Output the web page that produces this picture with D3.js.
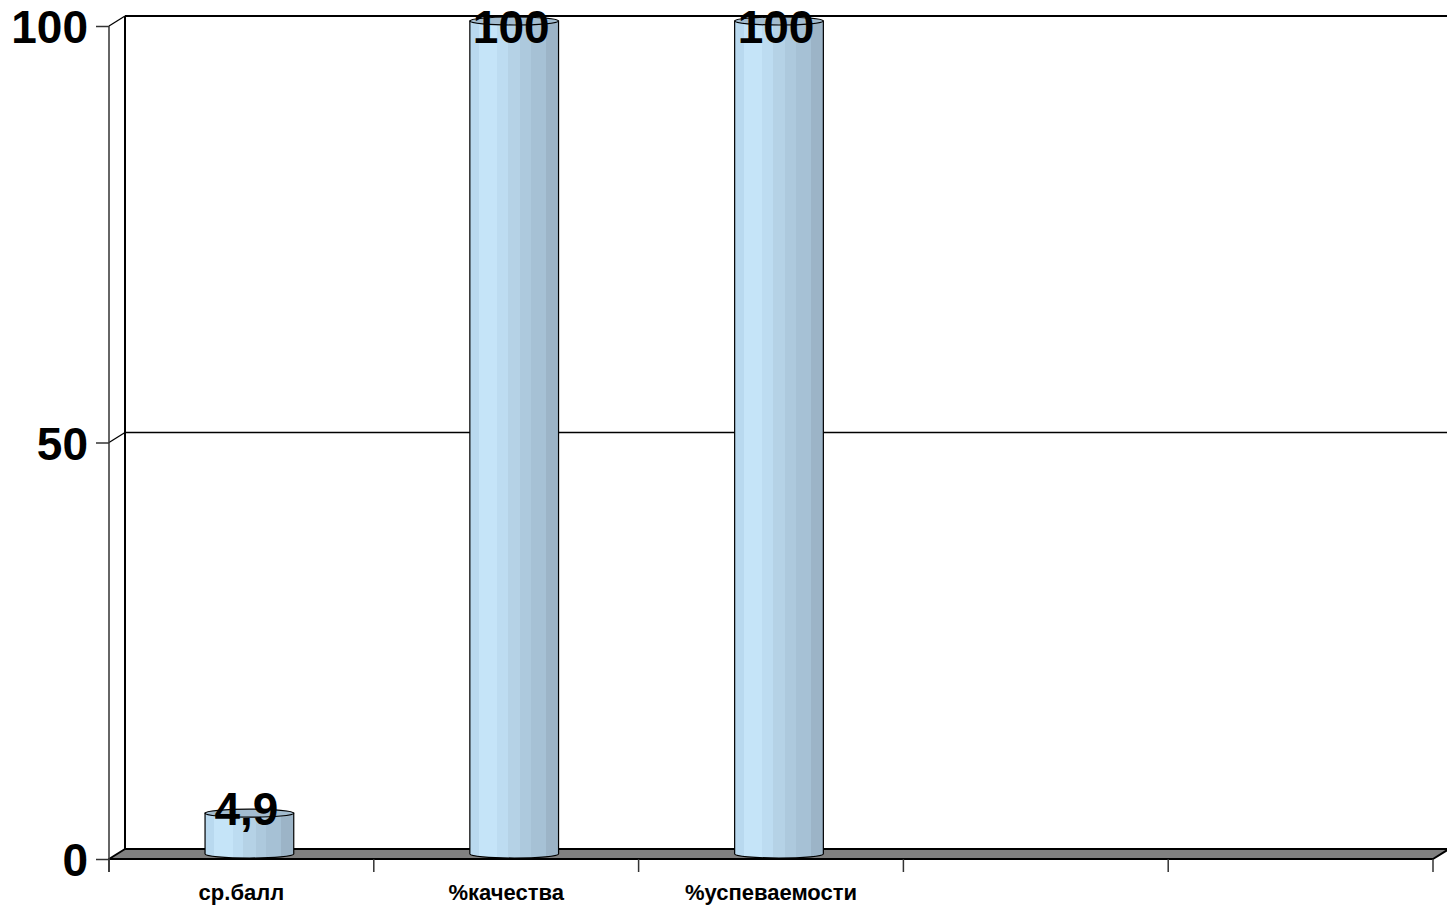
<!DOCTYPE html>
<html><head><meta charset="utf-8">
<script src="https://cdn.jsdelivr.net/npm/d3@7"></script>
<style>html,body{margin:0;padding:0;background:#fff;}svg{display:block;font-family:Arial,"Liberation Sans",sans-serif;}</style>
</head><body><svg id="c" width="1447" height="907"></svg>
<script>
const categories = ["ср.балл", "%качества", "%успеваемости", "", ""];
const values = [4.9, 100, 100, null, null];
const valueLabels = ["4,9", "100", "100", "", ""];
const yTicks = [0, 50, 100];

const svg = d3.select("#c");
const dx = 16, dy = -10;
const x = d3.scaleBand().domain(d3.range(categories.length)).range([109, 1433]).padding(0);
const y = d3.scaleLinear().domain([0, 100]).range([859, 26]);
const bw = x.bandwidth();

// gradient
const defs = svg.append("defs");
const g = defs.append("linearGradient").attr("id", "cyl").attr("x1", "0").attr("x2", "1").attr("y1", "0").attr("y2", "0");
const stripes = [["#b9d9ef",0],["#b9d9ef",0.1],["#c5e4f8",0.1],["#c5e4f8",0.31],["#bddcf1",0.31],["#bddcf1",0.43],["#b5d2e6",0.43],["#b5d2e6",0.57],["#adc9dd",0.57],["#adc9dd",0.69],["#a6c1d5",0.69],["#a6c1d5",0.86],["#9cb4c7",0.86],["#9cb4c7",1]];
stripes.forEach(s => g.append("stop").attr("offset", s[1]).attr("stop-color", s[0]));

const x0 = x.range()[0], x1 = x.range()[1];
// back wall gridlines
svg.append("g").selectAll("line").data(yTicks.filter(t => t > 0)).join("line")
  .attr("x1", x0 + dx).attr("x2", x1 + dx).attr("y1", d => y(d) + dy).attr("y2", d => y(d) + dy)
  .attr("stroke", "#000").attr("stroke-width", d => d === 100 ? 2 : 1.5);
// back wall vertical
svg.append("line").attr("x1", x0 + dx).attr("x2", x0 + dx).attr("y1", y(100) + dy).attr("y2", y(0) + dy).attr("stroke", "#000").attr("stroke-width", 2);
// side wall diagonals
svg.append("g").selectAll("line").data(yTicks.filter(t => t > 0)).join("line")
  .attr("x1", x0).attr("x2", x0 + dx).attr("y1", d => y(d)).attr("y2", d => y(d) + dy)
  .attr("stroke", "#000").attr("stroke-width", 1.3);
// floor
svg.append("path")
  .attr("d", `M${x0},${y(0)}L${x0 + dx},${y(0) + dy}L${x1 + dx},${y(0) + dy}L${x1},${y(0)}Z`)
  .attr("fill", "#808080").attr("stroke", "#000").attr("stroke-width", 2).attr("stroke-linejoin", "round");

// front y-axis
const yAxis = d3.axisLeft(y).tickValues(yTicks).tickSize(13).tickFormat(d3.format("d"));
const ya = svg.append("g").attr("transform", `translate(${x0},0)`).call(yAxis);
ya.select(".domain").attr("d", `M0,${y(100)}V${y(0) + 13}`).attr("stroke", "#333").attr("stroke-width", 1.5);
ya.selectAll(".tick line").attr("stroke", "#333").attr("stroke-width", 1.5);
ya.selectAll(".tick text").attr("x", -21).attr("dy", "0.36em").attr("font-size", 46).attr("font-weight", "bold").attr("fill", "#000").attr("font-family", "Arial, 'Liberation Sans', sans-serif");

// x axis
const xAxis = d3.axisBottom(x).tickSize(13).tickFormat(i => categories[i]);
const xa = svg.append("g").attr("transform", `translate(0,${y(0)})`).call(xAxis);
xa.select(".domain").remove();
xa.selectAll(".tick line").attr("transform", (d) => `translate(${-bw / 2},0)`).attr("stroke", "#333").attr("stroke-width", 1.5);
xa.append("line").attr("x1", x1).attr("x2", x1).attr("y1", 0).attr("y2", 13).attr("stroke", "#333").attr("stroke-width", 1.5);
xa.selectAll(".tick text").attr("y", 41).attr("dy", 0).attr("font-size", 22).attr("font-weight", "bold").attr("fill", "#000").attr("font-family", "Arial, 'Liberation Sans', sans-serif");

// cylinders
const cw = bw * 0.335, ry = 4;
const data = values.map((v, i) => ({ i, v, lab: valueLabels[i] })).filter(d => d.v != null);
const cyl = svg.append("g").selectAll("g").data(data).join("g");
cyl.each(function (d) {
  const s = d3.select(this);
  const cx = x(d.i) + bw / 2 + dx / 2;
  const yb = y(0) + dy / 2, yt = y(d.v) + dy / 2;
  const l = cx - cw / 2, r = cx + cw / 2;
  s.append("path")
    .attr("d", `M${l},${yt}L${l},${yb}A${cw / 2},${ry} 0 0 0 ${r},${yb}L${r},${yt}Z`)
    .attr("fill", "url(#cyl)").attr("stroke", "#000").attr("stroke-width", 1.2);
  s.append("ellipse").attr("cx", cx).attr("cy", yt).attr("rx", cw / 2).attr("ry", ry)
    .attr("fill", "#a3bccf").attr("stroke", "#000").attr("stroke-width", 1.2);
  s.append("text").attr("x", cx - 3).attr("y", Math.max(yt + 12, y(100) + 17))
    .attr("text-anchor", "middle").attr("font-size", 46).attr("font-weight", "bold").attr("fill", "#000")
    .text(d.lab);
});
</script></body></html>
